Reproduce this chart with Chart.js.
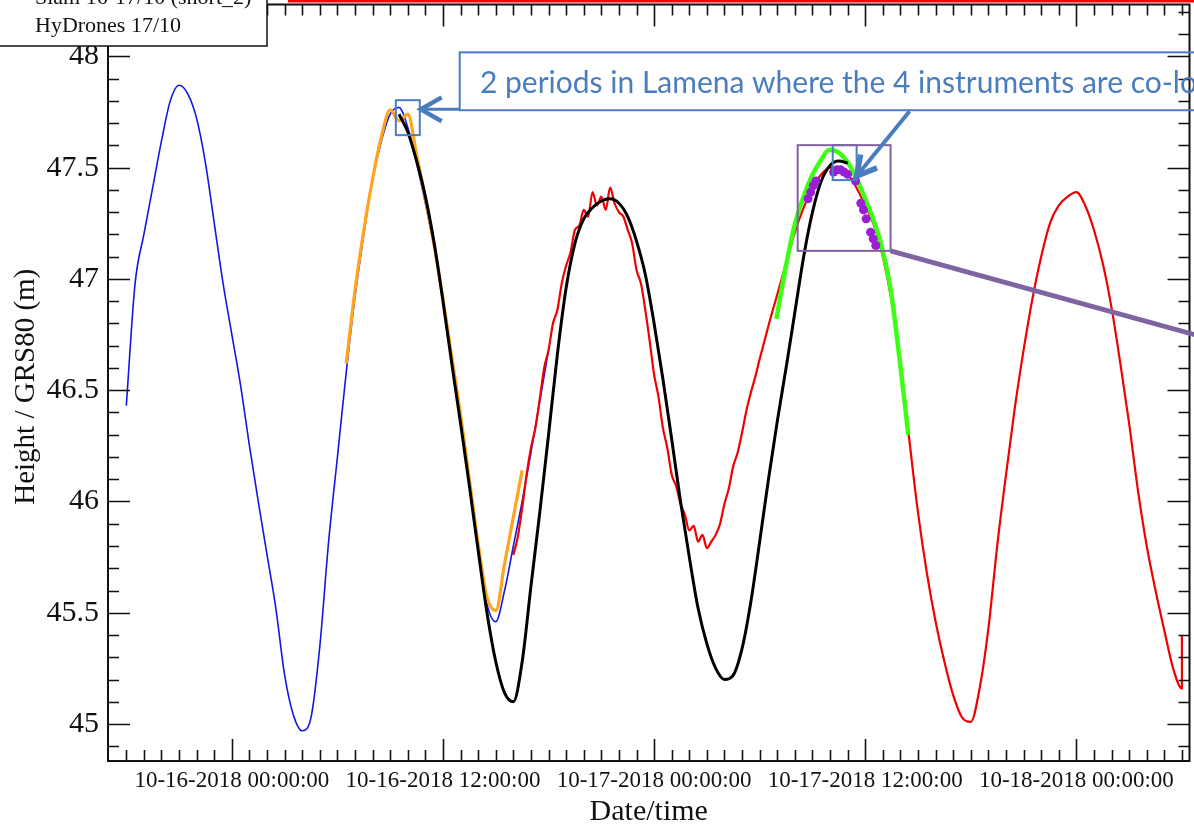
<!DOCTYPE html>
<html lang="en">
<head>
<meta charset="UTF-8" />
<title>Lamena water height</title>
<script src="https://cdn.jsdelivr.net/npm/chart.js"></script>
<style>
  html, body { margin: 0; padding: 0; background: #fff; }
  canvas { display: block; }
</style>
</head>
<body>
<canvas id="heights" width="1194" height="827"></canvas>
<script>
// time is in hours after 10-16-2018 00:00:00, heights in metres above GRS80
const blueStart = -6.0, blueStep = 0.5;
const blueHeight = [46.43, 46.98, 47.20, 47.41, 47.62, 47.80, 47.87, 47.83, 47.72, 47.52,
  47.25, 46.98, 46.75, 46.52, 46.25, 46.00, 45.76, 45.52, 45.22, 45.04,
  44.97, 45.03, 45.35, 45.82, 46.20, 46.58, 46.92, 47.20, 47.45, 47.62,
  47.74, 47.77, 47.68, 47.52, 47.34, 47.14, 46.90, 46.64, 46.39, 46.10,
  45.80, 45.54, 45.46, 45.60, 45.80, 46.00, 46.22, 46.45, 46.68];

const orangeStart = 6.5, orangeStep = 0.5;
const orangeHeight = [46.62, 46.95, 47.22, 47.45, 47.64, 47.76, 47.71, 47.74, 47.56, 47.36,
  47.15, 46.91, 46.65, 46.39, 46.10, 45.81, 45.57, 45.51, 45.72, 45.93, 46.14];

// red logger: quarter-hour samples first, half-hour afterwards
const redEarlyStart = 16.0, redEarlyStep = 0.25;
const redEarlyHeight = [45.76, 45.84, 45.97, 46.12, 46.24, 46.33, 46.46, 46.60,
  46.68, 46.80, 46.86, 46.98, 47.06, 47.12, 47.22, 47.24,
  47.31, 47.28, 47.39, 47.33, 47.37, 47.31, 47.41, 47.34,
  47.30, 47.28, 47.22, 47.16, 47.04, 46.98, 46.86, 46.72,
  46.57, 46.47, 46.33, 46.24, 46.12, 46.07, 45.99, 45.94,
  45.87, 45.89, 45.82, 45.85, 45.79, 45.82, 45.85, 45.90,
  45.99, 46.06, 46.16, 46.22, 46.31, 46.41, 46.49, 46.56];
const redLateStart = 30.0, redLateStep = 0.5;
const redLateHeight = [46.64, 46.79, 46.93, 47.07, 47.21, 47.32, 47.41, 47.47, 47.50, 47.50,
  47.47, 47.41, 47.33, 47.24, 47.10, 46.90, 46.62, 46.28, 45.95, 45.68,
  45.46, 45.28, 45.13, 45.03, 45.01, 45.16, 45.43, 45.80, 46.12, 46.42,
  46.68, 46.91, 47.10, 47.25, 47.33, 47.37, 47.39, 47.33, 47.22, 47.07,
  46.87, 46.62, 46.35, 46.05, 45.80, 45.60, 45.42, 45.25, 45.16];
const redLastHour = 54.0, redLastHeight = 45.40;

const blackStart = 9.5, blackStep = 0.5;
const blackHeight = [47.74, 47.66, 47.53, 47.37, 47.16, 46.90, 46.62, 46.35, 46.07, 45.78,
  45.50, 45.28, 45.14, 45.10, 45.28, 45.62, 45.95, 46.30, 46.66, 46.96,
  47.16, 47.27, 47.32, 47.35, 47.36, 47.34, 47.28, 47.17, 47.02, 46.80,
  46.55, 46.28, 46.00, 45.75, 45.52, 45.36, 45.25, 45.20, 45.22, 45.34,
  45.55, 45.82, 46.10, 46.36, 46.60, 46.85, 47.10, 47.30, 47.44, 47.51,
  47.53, 47.52];

const greenStart = 30.95, greenStep = 0.5;
const greenHeight = [46.82, 47.04, 47.23, 47.36, 47.46, 47.53, 47.58, 47.57, 47.53, 47.46,
  47.37, 47.27, 47.14, 46.95, 46.64, 46.30];

const purpleHours = [32.75, 32.9, 33.05, 33.2, 34.2, 34.4, 34.6, 34.8, 35.0, 35.45,
  35.75, 35.9, 36.05, 36.3, 36.45, 36.6];
const purpleHeight = [47.36, 47.39, 47.42, 47.44, 47.48, 47.49, 47.49, 47.48, 47.47, 47.44,
  47.34, 47.31, 47.27, 47.21, 47.18, 47.15];

const xTickHours = [0, 12, 24, 36, 48];
const xTickLabels = ['10-16-2018 00:00:00', '10-16-2018 12:00:00', '10-17-2018 00:00:00',
  '10-17-2018 12:00:00', '10-18-2018 00:00:00'];
const yTickValues = [45, 45.5, 46, 46.5, 47, 47.5, 48];
const yTickLabels = ['45', '45.5', '46', '46.5', '47', '47.5', '48'];

const legendLines = ['Slam 16-17/10 (short_2)', 'HyDrones 17/10'];
const noteText = '2 periods in Lamena where the 4 instruments are co-located';

// annotation shapes, in hours / metres so they follow the axes
const notes = {
  callout: { h1: 12.95, h2: 60, v1: 47.758, v2: 48.018, textH: 14.1, textV: 47.834 },
  square1: { h1: 9.32, h2: 10.68, v1: 47.646, v2: 47.803 },
  square2: { h1: 34.15, h2: 35.51, v1: 47.444, v2: 47.601 },
  zoomBox: { h1: 32.16, h2: 37.44, v1: 47.126, v2: 47.601 },
  arrow1: { h1: 12.95, v1: 47.762, h2: 10.74, v2: 47.762 },
  arrow2: { h1: 38.52, v1: 47.753, h2: 35.51, v2: 47.462 },
  zoomLine: { h1: 37.44, v1: 47.126, h2: 57.0, v2: 46.70 }
};

const series = (start, step, values) => values.map((v, i) => ({ x: start + i * step, y: v }));

const redPoints = series(redEarlyStart, redEarlyStep, redEarlyHeight)
  .concat(series(redLateStart, redLateStep, redLateHeight));
redPoints.push({ x: redLastHour, y: redLastHeight });

function arrow(ctx, x1, y1, x2, y2, shaft, arm, spread) {
  const ang = Math.atan2(y2 - y1, x2 - x1);
  ctx.lineCap = 'butt';
  ctx.lineWidth = shaft;
  ctx.beginPath();
  ctx.moveTo(x1, y1);
  ctx.lineTo(x2 - Math.cos(ang) * 3, y2 - Math.sin(ang) * 3);
  ctx.stroke();
  ctx.lineWidth = shaft + 1.5;
  ctx.lineJoin = 'miter';
  ctx.beginPath();
  ctx.moveTo(x2 - arm * Math.cos(ang - spread), y2 - arm * Math.sin(ang - spread));
  ctx.lineTo(x2, y2);
  ctx.lineTo(x2 - arm * Math.cos(ang + spread), y2 - arm * Math.sin(ang + spread));
  ctx.stroke();
}

const axesAndNotes = {
  id: 'axesAndNotes',
  afterDatasetsDraw(chart) {
    const { ctx, chartArea: a, scales: { x, y } } = chart;
    const X = h => x.getPixelForValue(h);
    const Y = v => y.getPixelForValue(v);
    ctx.save();

    // frame with inward ticks on all four sides
    ctx.strokeStyle = '#111';
    ctx.lineWidth = 2;
    ctx.strokeRect(a.left, a.top, a.right - a.left, a.bottom - a.top);
    ctx.lineWidth = 1.6;
    ctx.beginPath();
    for (let h = Math.ceil(x.min); h <= x.max; h++) {
      const p = Math.round(X(h)) + 0.5;
      if (p < a.left + 3 || p > a.right - 3) continue;
      const len = h % 12 === 0 ? 22 : 11;
      ctx.moveTo(p, a.bottom); ctx.lineTo(p, a.bottom - len);
      ctx.moveTo(p, a.top); ctx.lineTo(p, a.top + len);
    }
    for (let k = Math.ceil(y.min * 10); k <= y.max * 10; k++) {
      const p = Math.round(Y(k / 10)) + 0.5;
      if (p < a.top + 3 || p > a.bottom - 3) continue;
      const len = k % 5 === 0 ? 22 : 11;
      ctx.moveTo(a.left, p); ctx.lineTo(a.left + len, p);
      ctx.moveTo(a.right, p); ctx.lineTo(a.right - len, p);
    }
    ctx.stroke();

    // tick labels and titles
    ctx.fillStyle = '#111';
    ctx.font = '23px "Liberation Serif"';
    ctx.textAlign = 'center';
    ctx.textBaseline = 'alphabetic';
    xTickHours.forEach((h, i) => ctx.fillText(xTickLabels[i], X(h), a.bottom + 26));
    ctx.font = '30px "Liberation Serif"';
    ctx.fillText('Date/time', (a.left + a.right) / 2, a.bottom + 59);
    ctx.textAlign = 'right';
    ctx.textBaseline = 'middle';
    yTickValues.forEach((v, i) => ctx.fillText(yTickLabels[i], a.left - 9, Y(v)));
    ctx.font = '29px "Liberation Serif"';
    ctx.save();
    ctx.translate(26, (a.top + a.bottom) / 2 + 4);
    ctx.rotate(-Math.PI / 2);
    ctx.textAlign = 'center';
    ctx.fillText('Height / GRS80 (m)', 0, 0);
    ctx.restore();

    // callout and zoom marks
    const blue = '#4a7dbf';
    const purple = '#8064a2';
    const box = (n, col, w) => {
      ctx.strokeStyle = col;
      ctx.lineWidth = w;
      ctx.strokeRect(X(n.h1), Y(n.v2), X(n.h2) - X(n.h1), Y(n.v1) - Y(n.v2));
    };
    box(notes.callout, blue, 2);
    box(notes.square1, blue, 2);
    box(notes.square2, blue, 2);
    box(notes.zoomBox, purple, 2);
    ctx.strokeStyle = purple;
    ctx.lineWidth = 5;
    ctx.beginPath();
    ctx.moveTo(X(notes.zoomLine.h1), Y(notes.zoomLine.v1));
    ctx.lineTo(X(notes.zoomLine.h2), Y(notes.zoomLine.v2));
    ctx.stroke();
    ctx.strokeStyle = blue;
    const a1 = notes.arrow1, a2 = notes.arrow2;
    arrow(ctx, X(a1.h1), Y(a1.v1), X(a1.h2), Y(a1.v2), 3, 24, 0.52);
    arrow(ctx, X(a2.h1), Y(a2.v1), X(a2.h2), Y(a2.v2), 4, 22, 0.5);
    ctx.fillStyle = blue;
    ctx.font = '30px Lato';
    ctx.textAlign = 'left';
    ctx.textBaseline = 'alphabetic';
    ctx.fillText(noteText, X(notes.callout.textH), Y(notes.callout.textV));

    // legend box, cut by the top edge
    ctx.fillStyle = '#ff0000';
    ctx.fillRect(288, 0, 906, 2.5);
    ctx.fillStyle = '#fff';
    ctx.strokeStyle = '#111';
    ctx.lineWidth = 1.5;
    ctx.fillRect(-2, -10, 269, 56);
    ctx.strokeRect(-2, -10, 269, 56);
    ctx.fillStyle = '#111';
    ctx.font = '22px "Liberation Serif"';
    ctx.fillText(legendLines[0], 35, 4);
    ctx.fillText(legendLines[1], 35, 32);
    ctx.restore();
  }
};

const line = (data, color, width, order) => ({
  data, borderColor: color, borderWidth: width, pointRadius: 0,
  cubicInterpolationMode: 'monotone', fill: false, order
});

new Chart(document.getElementById('heights'), {
  type: 'line',
  data: {
    datasets: [
      line(series(blueStart, blueStep, blueHeight), '#1414e6', 1.6, 6),
      line(redPoints, '#f00000', 2.2, 5),
      line(series(orangeStart, orangeStep, orangeHeight), '#ffa41c', 3.2, 4),
      line(series(greenStart, greenStep, greenHeight), '#3cff14', 4.5, 3),
      line(series(blackStart, blackStep, blackHeight), '#000000', 3, 2),
      {
        data: purpleHours.map((h, i) => ({ x: h, y: purpleHeight[i] })),
        showLine: false, pointRadius: 4.5, pointBorderWidth: 0,
        pointBackgroundColor: '#9a1fd4', order: 1
      }
    ]
  },
  options: {
    responsive: false,
    animation: false,
    devicePixelRatio: 1,
    events: [],
    layout: { padding: { left: 108, right: 4, top: 3, bottom: 66 } },
    plugins: { legend: { display: false }, tooltip: { enabled: false } },
    scales: {
      x: { type: 'linear', min: -7.04, max: 54.43, display: false },
      y: { type: 'linear', min: 44.834, max: 48.233, display: false }
    }
  },
  plugins: [axesAndNotes]
});
</script>
</body>
</html>
